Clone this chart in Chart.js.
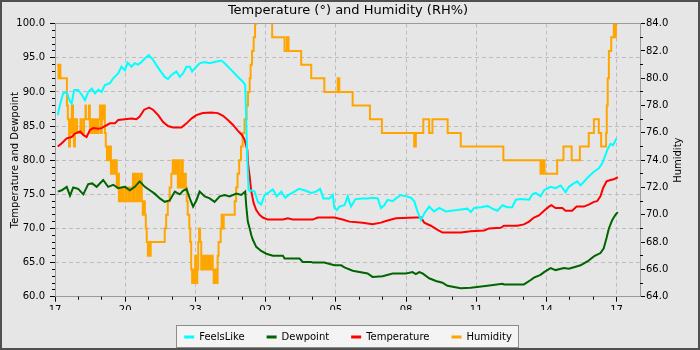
<!DOCTYPE html>
<html><head><meta charset="utf-8">
<script src="https://cdn.jsdelivr.net/npm/chart.js@4.4.1/dist/chart.umd.min.js"></script>
<style>
html,body{margin:0;padding:0;background:#e6e6e6;}
#frame{width:700px;height:350px;box-sizing:border-box;border:2px solid #505050;background:#e6e6e6;}
canvas{display:block;}
</style></head><body>
<div id="frame"><canvas id="c" width="696" height="346" style="width:696px;height:346px"></canvas></div>
<script>
// ---- data (x = hours after 17:00) ----
const chartTitle = 'Temperature (°) and Humidity (RH%)';
const leftTitle = 'Temperature and Dewpoint';
const rightTitle = 'Humidity';
const hourLabels = ['17','20','23','02','05','08','11','14','17'];
const seriesNames = ['FeelsLike','Dewpoint','Temperature','Humidity'];

const feelsTime = [0.12,0.21,0.35,0.50,0.64,0.71,0.82,0.99,1.14,1.28,1.42,1.57,1.71,1.85,1.99,2.13,2.35,2.49,2.70,2.84,2.99,3.10,3.27,3.41,3.55,3.70,3.84,4.01,4.19,4.34,4.48,4.69,4.83,4.98,5.19,5.33,5.47,5.62,5.76,5.86,6.04,6.18,6.40,6.61,6.82,7.11,7.25,7.54,7.82,8.03,8.13,8.17,8.22,8.27,8.33,8.39,8.53,8.67,8.81,8.96,9.10,9.31,9.48,9.67,9.84,10.02,10.23,10.42,10.66,10.95,11.16,11.33,11.47,11.73,11.87,11.94,12.04,12.15,12.37,12.51,12.65,12.84,13.15,13.36,13.57,13.79,13.93,14.07,14.21,14.43,14.57,14.78,15.00,15.21,15.35,15.49,15.64,15.78,15.99,16.20,16.42,16.70,16.92,17.20,17.62,17.77,17.91,18.20,18.48,18.69,18.90,19.12,19.33,19.54,19.69,19.90,20.26,20.40,20.54,20.75,20.90,21.18,21.39,21.61,21.82,21.96,22.17,22.32,22.46,22.67,22.81,23.03,23.24,23.38,23.53,23.60,23.74,23.85,24.00];
const feelsLike = [86.6,88.1,89.8,90.0,88.6,88.3,90.3,90.3,89.6,88.8,90.0,90.5,89.8,90.3,90.0,91.0,91.3,92.0,92.7,93.7,93.2,94.3,93.7,94.2,94.0,94.4,94.9,95.4,94.7,93.9,93.2,92.2,91.9,92.5,93.0,92.2,92.7,93.7,93.7,93.0,93.7,94.2,94.4,94.2,94.4,94.6,94.2,93.2,92.2,91.5,91.0,86.0,80.0,75.8,75.5,75.6,75.4,73.9,73.5,74.9,75.2,75.7,74.7,75.4,74.5,75.0,75.4,75.8,75.6,75.2,75.4,75.8,74.4,74.4,74.9,73.0,72.7,73.2,73.4,74.7,73.2,74.3,74.4,74.4,74.5,74.4,73.0,73.4,74.2,74.0,74.4,74.9,74.7,74.5,74.0,72.5,71.2,72.2,73.2,72.5,73.0,72.5,72.6,72.7,72.9,72.4,73.0,73.1,73.3,72.9,72.6,73.4,73.1,73.1,74.2,74.3,74.2,75.0,75.2,74.7,75.6,76.1,75.9,76.3,75.3,76.1,76.6,76.9,76.3,77.1,77.6,78.3,78.8,79.5,80.8,81.5,82.4,82.2,83.2];

const tempTime = [0.12,0.29,0.50,0.71,0.85,1.07,1.21,1.35,1.49,1.63,1.85,1.99,2.13,2.35,2.56,2.70,2.99,3.27,3.48,3.62,3.81,4.02,4.19,4.41,4.62,4.83,5.04,5.40,5.62,5.83,6.04,6.32,6.68,6.96,7.18,7.39,7.60,7.82,7.99,8.10,8.22,8.25,8.32,8.39,8.49,8.60,8.74,8.88,9.10,9.74,9.95,10.16,11.01,11.23,11.94,12.29,12.58,13.15,13.57,13.93,14.14,14.57,15.42,15.64,15.78,16.06,16.35,16.56,17.34,17.77,18.34,18.55,19.05,19.19,19.76,20.04,20.26,20.47,20.68,20.90,21.11,21.21,21.39,21.68,21.82,22.10,22.29,22.60,22.81,23.03,23.17,23.31,23.42,23.57,23.74,23.88,24.05];
const temperature = [82.0,82.5,83.2,83.4,83.9,84.2,83.7,83.4,84.4,84.7,84.6,84.7,85.0,85.4,85.4,85.9,86.0,86.1,86.0,86.4,87.4,87.7,87.4,86.6,85.6,85.0,84.8,84.8,85.4,86.1,86.6,86.9,87.0,86.9,86.5,85.9,85.2,84.3,83.7,83.0,81.5,79.5,77.6,75.4,73.7,72.7,72.0,71.6,71.3,71.3,71.5,71.3,71.3,71.6,71.6,71.3,71.0,70.85,70.6,70.85,71.1,71.5,71.6,71.6,70.85,70.4,69.8,69.4,69.4,69.6,69.7,70.0,70.1,70.4,70.4,70.6,71.0,71.6,71.9,72.6,73.2,73.4,73.0,73.0,72.6,72.6,73.2,73.2,73.5,73.9,74.0,74.7,75.9,76.9,77.1,77.2,77.5];

const dewTime = [0.12,0.29,0.50,0.64,0.78,0.99,1.21,1.42,1.59,1.78,2.06,2.27,2.49,2.70,2.99,3.20,3.41,3.62,3.84,4.05,4.26,4.48,4.69,4.90,5.12,5.33,5.47,5.62,5.76,5.90,6.04,6.18,6.40,6.61,6.82,7.04,7.25,7.46,7.75,7.96,8.13,8.17,8.24,8.32,8.39,8.46,8.60,8.81,9.03,9.31,9.74,9.81,10.45,10.59,10.95,11.01,11.51,11.94,12.23,12.37,12.72,13.36,13.57,14.00,14.43,15.00,15.28,15.42,15.57,15.71,15.99,16.28,16.56,16.77,17.34,17.77,18.48,19.12,19.19,20.04,20.33,20.47,20.75,20.90,21.18,21.39,21.75,21.96,22.25,22.46,22.77,23.03,23.31,23.45,23.57,23.67,23.81,23.95,24.05];
const dewpoint = [75.4,75.6,76.1,74.8,76.0,75.8,75.0,76.5,76.6,76.1,77.1,76.1,76.4,75.9,76.1,75.6,76.1,76.9,76.1,75.6,75.1,74.4,73.9,74.1,75.4,75.0,75.5,75.8,74.4,73.2,74.1,75.4,74.7,74.4,73.9,74.7,74.9,74.7,75.1,74.9,75.4,73.4,71.0,70.0,69.0,68.3,67.3,66.7,66.3,66.0,66.0,65.6,65.6,65.1,65.1,65.0,65.0,64.6,64.6,64.3,63.8,63.4,62.9,63.0,63.4,63.4,63.6,63.3,63.6,63.4,62.7,62.3,62.05,61.6,61.25,61.3,61.6,61.9,61.8,61.8,62.45,62.8,63.2,63.6,64.2,63.9,64.2,64.1,64.4,64.6,65.2,65.9,66.4,67.1,68.6,70.0,71.2,72.0,72.4];

const humTime = [0.09,0.15,0.19,0.23,0.51,0.55,0.60,0.64,0.68,0.72,0.77,0.81,0.85,0.94,1.09,1.15,1.24,1.30,1.32,1.45,1.49,1.56,1.62,1.66,1.71,1.75,1.79,1.86,1.92,1.96,2.00,2.05,2.09,2.13,2.17,2.22,2.26,2.30,2.35,2.39,2.43,2.47,2.52,2.56,2.60,2.64,2.69,2.73,2.77,2.81,2.86,2.94,3.03,3.07,3.16,3.24,3.33,3.37,3.41,3.45,3.50,3.54,3.58,3.62,3.67,3.71,3.75,3.80,3.84,3.88,3.92,3.97,4.01,4.05,4.09,4.69,4.75,4.82,4.90,4.97,5.03,5.07,5.12,5.16,5.20,5.25,5.29,5.33,5.37,5.42,5.46,5.50,5.54,5.59,5.63,5.67,5.74,5.78,5.82,5.86,5.91,5.95,5.99,6.03,6.08,6.12,6.16,6.20,6.25,6.29,6.35,6.42,6.48,6.55,6.61,6.67,6.74,6.78,6.84,6.89,6.95,6.99,7.08,7.12,7.16,7.21,7.68,7.74,7.80,7.87,7.95,8.02,8.10,8.19,8.25,8.32,8.36,8.42,8.49,8.55,8.61,9.28,9.81,9.91,9.98,10.52,10.95,11.51,12.08,12.15,12.72,13.46,13.97,15.35,15.42,15.74,15.99,16.13,16.78,17.34,19.16,20.75,20.79,20.83,20.87,20.92,21.46,21.73,22.08,22.43,22.81,23.03,23.24,23.34,23.55,23.58,23.62,23.67,23.77,23.88,23.92,23.97,24.05];
const humidity = [81,80,81,80,78,77,75,77,76,78,76,75,77,76,77,76,77,78,77,78,76,77,76,77,76,77,76,77,78,76,78,77,78,76,75,74,75,74,75,73,74,73,74,73,74,72,73,71,72,71,72,71,72,71,72,71,73,71,72,73,71,73,72,71,73,71,70,71,70,69,68,67,68,67,68,69,70,71,72,73,74,73,74,73,74,72,74,73,72,74,73,72,73,72,71,70,69,68,66,65,66,65,67,65,66,68,69,68,66,67,66,67,66,67,66,67,66,65,66,65,67,68,69,70,69,70,71,72,73,74,75,76,77,78,79,80,81,82,83,84,85,83,82,83,82,81,80,79,80,79,78,77,76,75,76,77,76,77,76,75,74,73,74,73,74,73,74,75,74,75,76,77,76,75,76,78,80,82,83,84,83,84,84];

const colors = ['#00ffff','#006400','#ff0000','#ffa500'];

// ---- chart ----
Chart.defaults.font.family = '"DejaVu Sans", sans-serif';
Chart.defaults.font.size = 10;
Chart.defaults.color = '#000';

const pts = (t, v) => t.map((x, i) => ({x: x, y: v[i]}));
const al = p => Math.round(p - 0.5) + 0.5;

const decor = {
  id: 'decor',
  beforeDraw(chart) {
    const {ctx, legend} = chart;
    const hb = legend && legend.legendHitBoxes;
    if (!hb || !hb.length) return;
    const a = hb[0], b = hb[hb.length - 1];
    const cy = a.top + a.height / 2;
    const x0 = Math.round(a.left) - 7.5, x1 = Math.round(b.left + b.width) + 6.5;
    const y0 = Math.round(cy) - 11.5, y1 = Math.round(cy) + 10.5;
    ctx.save();
    ctx.fillStyle = '#f4f4f4';
    ctx.fillRect(x0, y0, x1 - x0, y1 - y0);
    ctx.strokeStyle = '#8c8c8c'; ctx.lineWidth = 1;
    ctx.strokeRect(x0, y0, x1 - x0, y1 - y0);
    ctx.restore();
  },
  beforeDatasetsDraw(chart) {
    const {ctx, chartArea: ca, scales} = chart;
    ctx.save();
    ctx.strokeStyle = '#9a9a9a'; ctx.lineWidth = 1;
    ctx.strokeRect(al(ca.left), al(ca.top), al(ca.right) - al(ca.left), al(ca.bottom) - al(ca.top));
    ctx.strokeStyle = '#000';
    ctx.beginPath();
    for (let v = 61; v < 100; v++) if (v % 5) { const y = al(scales.y.getPixelForValue(v)); ctx.moveTo(ca.left - 3, y); ctx.lineTo(ca.left, y); }
    for (let v = 65; v < 84; v += 2) { const y = al(scales.y1.getPixelForValue(v)); ctx.moveTo(ca.right, y); ctx.lineTo(ca.right + 3, y); }
    for (let h = 1; h < 25; h++) if (h % 3) { const x = al(scales.x.getPixelForValue(h)); ctx.moveTo(x, ca.bottom); ctx.lineTo(x, ca.bottom + 3); }
    ctx.stroke();
    ctx.restore();
  },
  afterDraw(chart) {
    const {ctx, chartArea: ca} = chart;
    ctx.save();
    ctx.font = '10px "DejaVu Sans", sans-serif';
    ctx.fillStyle = '#000'; ctx.textAlign = 'center'; ctx.textBaseline = 'middle';
    ctx.translate(676, (ca.top + ca.bottom) / 2);
    ctx.rotate(-Math.PI / 2);
    ctx.fillText(rightTitle, 0, 0);
    ctx.restore();
  }
};

const gridCommon = {color: '#bdbdbd', lineWidth: 1, tickLength: 5, tickColor: '#000', tickWidth: 1};

new Chart(document.getElementById('c'), {
  type: 'line',
  data: {
    datasets: [
      {label: seriesNames[0], data: pts(feelsTime, feelsLike), borderColor: colors[0], backgroundColor: colors[0], yAxisID: 'y'},
      {label: seriesNames[1], data: pts(dewTime, dewpoint), borderColor: colors[1], backgroundColor: colors[1], yAxisID: 'y'},
      {label: seriesNames[2], data: pts(tempTime, temperature), borderColor: colors[2], backgroundColor: colors[2], yAxisID: 'y'},
      {label: seriesNames[3], data: pts(humTime, humidity), borderColor: colors[3], backgroundColor: colors[3], yAxisID: 'y1', stepped: true, clip: 0}
    ]
  },
  options: {
    responsive: false,
    animation: false,
    events: [],
    layout: {padding: {left: 0, right: 4, top: 0, bottom: -4}},
    elements: {point: {radius: 0}, line: {borderWidth: 2, tension: 0, fill: false}},
    plugins: {
      title: {display: true, text: chartTitle, color: '#000', font: {size: 13, weight: 'normal'}, padding: {top: 1, bottom: 5.1}},
      legend: {
        position: 'bottom',
        labels: {
          boxWidth: 10, boxHeight: 3, padding: 22, color: '#000', font: {size: 10},
          generateLabels(chart) {
            return Chart.defaults.plugins.legend.labels.generateLabels(chart).map(l => Object.assign(l, {lineWidth: 0}));
          }
        }
      },
      tooltip: {enabled: false}
    },
    scales: {
      x: {
        type: 'linear', min: 0, max: 25,
        afterFit(s) { s.height = 13.3; },
        ticks: {stepSize: 3, includeBounds: false, autoSkip: false, maxRotation: 0, padding: 3,
                callback: v => hourLabels[Math.round(v / 3)]},
        grid: gridCommon,
        border: {display: false, dash: [4, 3]}
      },
      y: {
        position: 'left', min: 60, max: 100,
        afterFit(s) { s.width = 53; },
        ticks: {stepSize: 5, padding: 5, callback: v => v.toFixed(1)},
        grid: gridCommon,
        border: {display: false, dash: [4, 3]},
        title: {display: true, text: leftTitle, color: '#000', font: {size: 10}, padding: {top: 7.5, bottom: 0}}
      },
      y1: {
        position: 'right', min: 64, max: 84,
        afterFit(s) { s.width = 54; },
        ticks: {stepSize: 2, padding: 1, callback: v => v.toFixed(1)},
        grid: Object.assign({}, gridCommon, {drawOnChartArea: false}),
        border: {display: false}
      }
    }
  },
  plugins: [decor]
});
</script>
</body></html>
